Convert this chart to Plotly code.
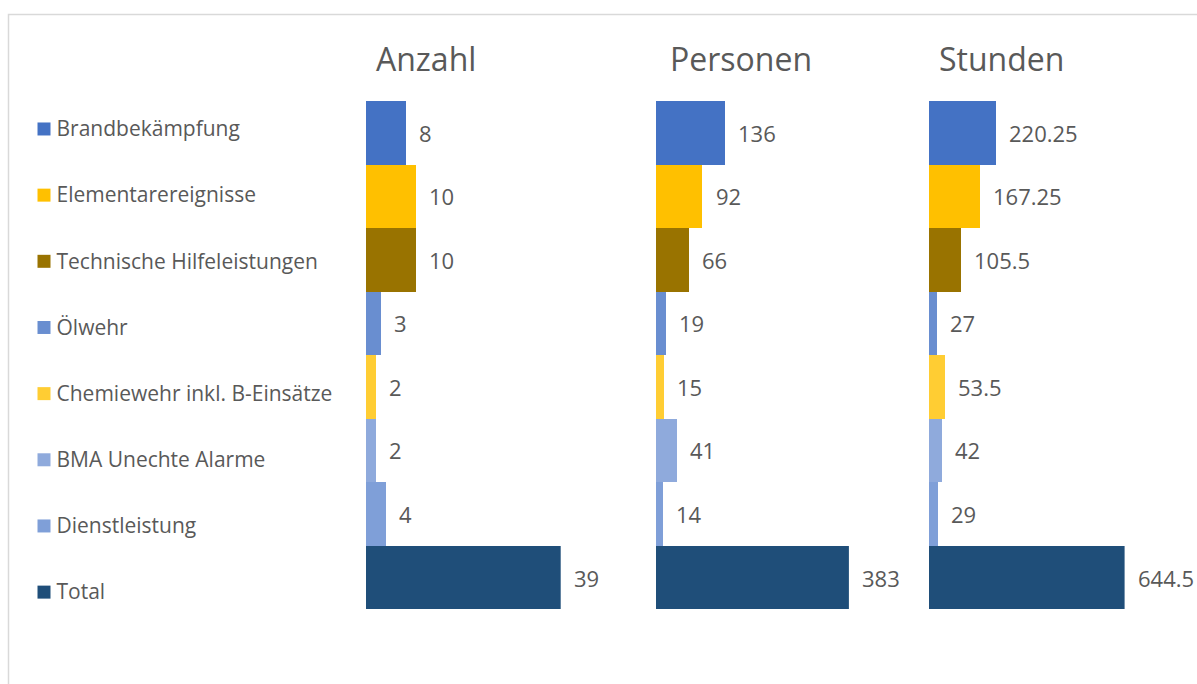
import plotly.graph_objects as go

categories = ["Brandbekämpfung", "Elementarereignisse", "Technische Hilfeleistungen", "Ölwehr",
              "Chemiewehr inkl. B-Einsätze", "BMA Unechte Alarme", "Dienstleistung", "Total"]
anzahl = [8, 10, 10, 3, 2, 2, 4, 39]
personen = [136, 92, 66, 19, 15, 41, 14, 383]
stunden = [220.25, 167.25, 105.5, 27, 53.5, 42, 29, 644.5]
panel_titles = ["Anzahl", "Personen", "Stunden"]
colors = ["#4472C4", "#FFC000", "#997300", "#698ED0", "#FFCD33", "#8FAADC", "#7F9FD8", "#1F4E79"]

# body margin is removed in the page, so the figure fills the window
OFF = 0
W, H = 1197, 684
FONT = "Open Sans"
TXT = "#595959"


def px(x):  # page x pixel -> paper fraction
    return (x - OFF) / W


def py(y):  # page y pixel -> paper fraction
    return 1 - (y - OFF) / H


# panel layout: (values, left px, width px of the max bar, title offset px)
panels = [(anzahl, 365.7, 195.0, 8.5), (personen, 655.7, 193.2, 12.5), (stunden, 928.6, 196.0, 8.5)]

fig = go.Figure()
layout_axes = {}
annotations = []

bar_top, bar_bot = 101.0, 609.3

for i, (vals, left, width, toff) in enumerate(panels):
    ax = "x" if i == 0 else f"x{i+1}"
    key = "xaxis" if i == 0 else f"xaxis{i+1}"
    fig.add_trace(go.Bar(
        x=vals, y=categories, orientation="h", xaxis=ax, yaxis="y",
        marker=dict(color=colors, line=dict(width=0)),
        showlegend=False, hoverinfo="x+y",
    ))
    layout_axes[key] = dict(domain=[px(left), px(left + width)], range=[0, max(vals)],
                            visible=False, anchor="y", fixedrange=True)
    for c, v in zip(categories, vals):
        annotations.append(dict(x=v, y=c, xref=ax, yref="y", text=f"{v:g}", showarrow=False,
                                xanchor="left", yanchor="middle", xshift=11.5,
                                font=dict(family=FONT, size=22, color=TXT)))
    annotations.append(dict(x=px(left + toff), y=py(58.5), xref="paper", yref="paper",
                            text=panel_titles[i], showarrow=False, xanchor="left", yanchor="middle",
                            font=dict(family=FONT, size=32, color=TXT)))

# legend column: squares and labels
leg_top, leg_bot = 95.9, 625.2
fig.add_trace(go.Scatter(
    x=[0] * len(categories), y=categories, xaxis="x4", yaxis="y4",
    mode="markers", marker=dict(symbol="square", size=13, color=colors, line=dict(width=0)),
    showlegend=False, hoverinfo="skip", cliponaxis=False,
))
fig.add_trace(go.Scatter(
    x=[0] * len(categories), y=categories, xaxis="x5", yaxis="y5",
    mode="text", text=categories, textposition="middle right",
    textfont=dict(family=FONT, size=21, color=TXT), showlegend=False, hoverinfo="skip",
    cliponaxis=False,
))
layout_axes["xaxis4"] = dict(domain=[px(44), px(360)], range=[0, 1], visible=False, anchor="y4")
layout_axes["yaxis4"] = dict(domain=[py(leg_bot), py(leg_top)], type="category",
                             categoryorder="array", categoryarray=categories,
                             range=[len(categories) - 0.5, -0.5], visible=False, anchor="x4")
layout_axes["xaxis5"] = dict(domain=[px(56.5), px(360)], range=[0, 1], visible=False, anchor="y5")
layout_axes["yaxis5"] = dict(domain=[py(leg_bot + 2), py(leg_top + 2)], type="category",
                             categoryorder="array", categoryarray=categories,
                             range=[len(categories) - 0.5, -0.5], visible=False, anchor="x5")

fig.update_layout(
    width=W, height=H, margin=dict(l=0, r=0, t=0, b=0),
    paper_bgcolor="white", plot_bgcolor="white",
    bargap=0,
    yaxis=dict(domain=[py(bar_bot), py(bar_top)], type="category", categoryorder="array",
               categoryarray=categories, range=[len(categories) - 0.5, -0.5], visible=False,
               fixedrange=True),
    annotations=annotations,
    shapes=[dict(type="rect", xref="paper", yref="paper", x0=px(8.5), x1=1.01, y0=-0.01, y1=py(14.5),
                 line=dict(color="#D9D9D9", width=1.5), fillcolor="rgba(0,0,0,0)", layer="below")],
    **layout_axes,
)

fig.write_html(
    "out.html",
    config={"displayModeBar": False},
    post_script="document.body.style.margin='0';"
                "document.documentElement.style.overflow='hidden';"
                "document.body.style.overflow='hidden';",
)
